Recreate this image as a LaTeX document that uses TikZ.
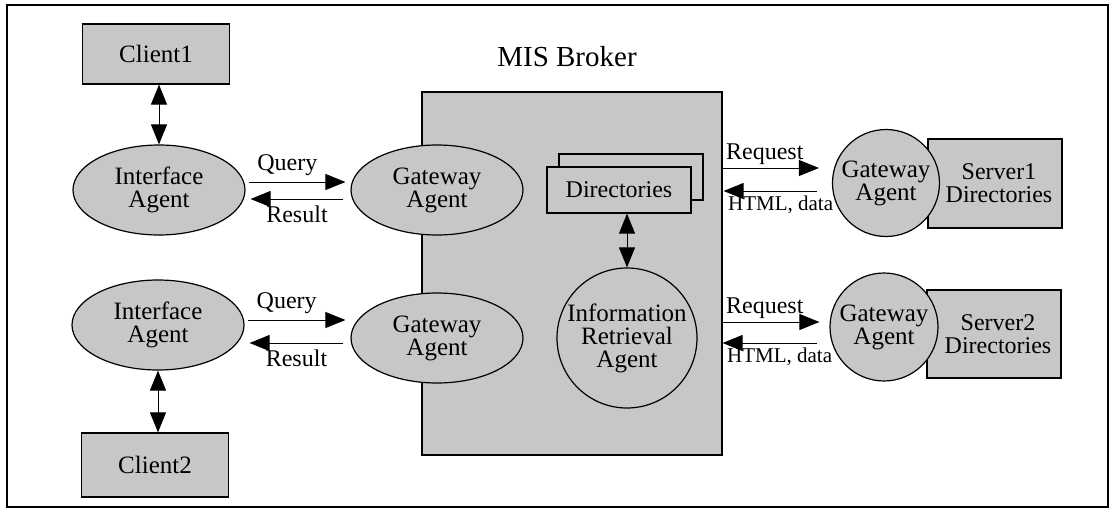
\documentclass[tikz,border=0pt]{standalone}
\usepackage{fontspec}
\setmainfont{Liberation Serif}
\usetikzlibrary{shapes.geometric,arrows.meta,calc}

\begin{document}
\begin{tikzpicture}[x=0.5pt,y=-0.5pt,
        greyfill/.style={fill=black!22, draw=black, line width=0.6pt},
        box/.style={greyfill, rectangle, inner sep=0pt, align=center, font=\fontsize{12.5}{11.5}\selectfont},
        agent/.style={greyfill, ellipse, inner sep=0pt, align=center, minimum width=86pt, minimum height=45pt, font=\fontsize{12.5}{11.5}\selectfont},
        roundagent/.style={greyfill, circle, inner sep=0pt, align=center, font=\fontsize{12.5}{11.5}\selectfont},
        flow/.style={-{Triangle[length=10pt,width=8pt]}, line width=0.5pt},
        biflow/.style={{Triangle[length=10pt,width=8pt]}-{Triangle[length=10pt,width=8pt]}, line width=0.5pt},
        lbl/.style={font=\fontsize{12}{13}\selectfont, inner sep=3pt}]
        \useasboundingbox (0,0) rectangle (1114,514);
        \draw[line width=0.8pt] (7,5) rectangle (1108,507);

        % broker and what sits inside it
        \node[font=\fontsize{14.5}{16}\selectfont] (title) at (567,57) {MIS Broker};
        \node[box, minimum width=150pt, minimum height=181.5pt] (broker) at (572,273.5) {};
        \node[agent] (gw1) at (437,190) {Gateway\\Agent};
        \node[agent] (gw2) at (437,338) {Gateway\\Agent};
        \node[box, minimum width=72pt, minimum height=23pt] (dirb) at (631,177) {};
        \node[box, minimum width=72pt, minimum height=23pt, font=\fontsize{12}{11.5}\selectfont] (dirf) at (619,190) {Directories};
        \node[roundagent, minimum size=70pt] (ira) at (627,338) {Information\\Retrieval\\Agent};

        % clients
        \node[box, minimum width=73.5pt, minimum height=30pt] (cl1) at (156,54) {Client1};
        \node[box, minimum width=73.5pt, minimum height=32pt] (cl2) at (155,465) {Client2};
        \node[agent] (ia1) at (159,190) {Interface\\Agent};
        \node[agent] (ia2) at (158,325) {Interface\\Agent};

        % servers
        \node[box, minimum width=67pt, minimum height=44.5pt, font=\fontsize{12}{11.5}\selectfont] (srv1) at (995,183.5) {\hspace*{4pt}Server1\\\hspace*{4pt}Directories};
        \node[box, minimum width=67pt, minimum height=44pt, font=\fontsize{12}{11.5}\selectfont] (srv2) at (994,334) {\hspace*{4pt}Server2\\\hspace*{4pt}Directories};
        \node[roundagent, minimum size=53.5pt] (gws1) at (886,183) {Gateway\\Agent};
        \node[roundagent, minimum size=54pt] (gws2) at (884,327) {Gateway\\Agent};

        \draw[biflow] (cl1.south -| ia1) -- (ia1.north);
        \draw[biflow] (ia2.south) -- (ia2.south |- cl2.north);
        \draw[biflow] (ira.north |- dirf.south) -- (ira.north);

        \draw[flow] ($(ia1.east)+(3,-8)$) -- ($(gw1.west)+(-5,-8)$) node[lbl, above, pos=0.4] {Query};
        \draw[flow] ($(gw1.west)+(-7,9)$) -- ($(ia1.east)+(5,9)$) node[lbl, below, pos=0.5] {Result};
        \draw[flow] ($(ia2.east)+(3,-5)$) -- ($(gw2.west |- ia2)+(-5,-5)$) node[lbl, above, pos=0.4] {Query};
        \draw[flow] ($(gw2.west |- ia2)+(-7,18)$) -- ($(ia2.east)+(5,18)$) node[lbl, below, pos=0.5] {Result};

        \draw[flow] ($(broker.east |- gws1)+(0,-15)$) -- ($(gws1.west)+(-13,-15)$) node[lbl, above right, pos=0, inner sep=1.5pt] {Request};
        \draw[flow] ($(gws1.west)+(-15,8)$) -- ($(broker.east |- gws1)+(1,8)$) node[lbl, below right, pos=1, inner sep=2pt, font=\fontsize{10.5}{12}\selectfont] {HTML, data};
        \draw[flow] ($(broker.east |- gws2)+(0,-5)$) -- ($(gws2.west)+(-10,-5)$) node[lbl, above right, pos=0, inner sep=1.5pt] {Request};
        \draw[flow] ($(gws2.west)+(-12,16)$) -- ($(broker.east |- gws2)+(0,16)$) node[lbl, below right, pos=1, inner sep=2pt, font=\fontsize{10.5}{12}\selectfont] {HTML, data};
\end{tikzpicture}
\end{document}
